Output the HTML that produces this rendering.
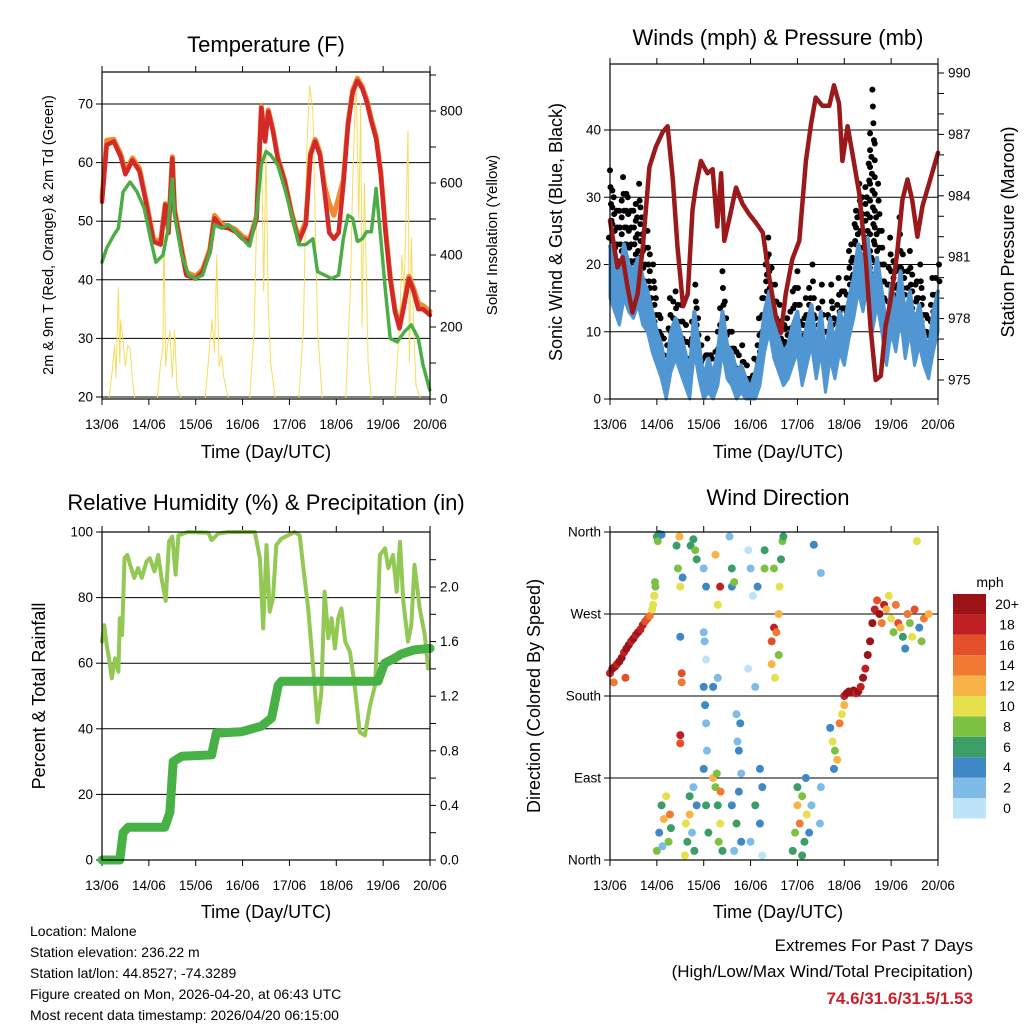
<!DOCTYPE html>
<html><head><meta charset="utf-8">
<style>
html,body{margin:0;padding:0;background:#fff;}
svg{display:block;font-family:"Liberation Sans",sans-serif;}
</style></head>
<body>
<svg id="chart" width="1024" height="1024" viewBox="0 0 1024 1024" xmlns="http://www.w3.org/2000/svg">
<rect x="0" y="0" width="1024" height="1024" fill="#fff"/>
<g id="p1"></g>
<g id="p2"></g>
<g id="p3"></g>
<g id="p4"></g>
<g id="txt">
<text x="266" y="52" font-size="22" text-anchor="middle">Temperature (F)</text>
<text x="778" y="45" font-size="22" text-anchor="middle">Winds (mph) &amp; Pressure (mb)</text>
<text x="266" y="510" font-size="22" text-anchor="middle">Relative Humidity (%) &amp; Precipitation (in)</text>
<text x="778" y="505" font-size="22" text-anchor="middle">Wind Direction</text>
<text x="266" y="458" font-size="18" text-anchor="middle">Time (Day/UTC)</text>
<text x="778" y="458" font-size="18" text-anchor="middle">Time (Day/UTC)</text>
<text x="266" y="918" font-size="18" text-anchor="middle">Time (Day/UTC)</text>
<text x="778" y="918" font-size="18" text-anchor="middle">Time (Day/UTC)</text>
<text transform="translate(53,235) rotate(-90)" font-size="14.5" text-anchor="middle">2m &amp; 9m T (Red, Orange) &amp; 2m Td (Green)</text>
<text transform="translate(497,235) rotate(-90)" font-size="15" text-anchor="middle">Solar Insolation (Yellow)</text>
<text transform="translate(562,232) rotate(-90)" font-size="18" text-anchor="middle">Sonic Wind &amp; Gust (Blue, Black)</text>
<text transform="translate(1014,232) rotate(-90)" font-size="18" text-anchor="middle">Station Pressure (Maroon)</text>
<text transform="translate(45,696) rotate(-90)" font-size="18" text-anchor="middle">Percent &amp; Total Rainfall</text>
<text transform="translate(540,696) rotate(-90)" font-size="18" text-anchor="middle">Direction (Colored By Speed)</text>
<text x="30" y="936" font-size="14">Location: Malone</text>
<text x="30" y="957" font-size="14">Station elevation: 236.22 m</text>
<text x="30" y="978" font-size="14">Station lat/lon: 44.8527; -74.3289</text>
<text x="30" y="999" font-size="14">Figure created on Mon, 2026-04-20, at 06:43 UTC</text>
<text x="30" y="1020" font-size="14">Most recent data timestamp: 2026/04/20 06:15:00</text>
<text x="973" y="951" font-size="17" text-anchor="end">Extremes For Past 7 Days</text>
<text x="973" y="977" font-size="17" text-anchor="end">(High/Low/Max Wind/Total Precipitation)</text>
<text x="973" y="1004" font-size="17" font-weight="bold" fill="#c8202a" text-anchor="end">74.6/31.6/31.5/1.53</text>
</g>
</svg>
<script>
const NS="http://www.w3.org/2000/svg";
const dayLabels=["13/06","14/06","15/06","16/06","17/06","18/06","19/06","20/06"];
// Temperature (t days, F)
const tempTimes=[0,0.1,0.25,0.4,0.5,0.65,0.8,0.95,1.1,1.25,1.35,1.42,1.5,1.55,1.7,1.8,2.0,2.15,2.3,2.4,2.55,2.7,2.85,3.0,3.15,3.3,3.4,3.48,3.55,3.65,3.75,3.9,4.05,4.2,4.35,4.45,4.55,4.65,4.75,4.85,4.95,5.05,5.15,5.25,5.35,5.45,5.55,5.65,5.75,5.85,5.95,6.05,6.15,6.25,6.35,6.45,6.55,6.65,6.75,6.85,7.0];
const tempRed=[53.3,63,63.6,61,58,60.4,58.5,52.8,46.5,46,52.8,48,60.7,51.6,44.8,40.8,40.2,41.4,44.8,50.5,49,48.8,48.2,47,46.5,50.5,69.3,63.6,68.7,65.3,60.7,56.7,51,46.5,49.4,61.3,63.6,61.3,55,48,47,48,56.2,66.4,72,74,72.7,70.4,67,64.1,58,48.2,40.2,34.6,31.7,35.7,40.2,38,35,35,34];
const tempOrange=[54,63.8,64,61.5,58.5,60.8,59,53.2,47,46.5,53,48.5,61,52,45.3,41.3,40.6,41.8,45.2,51,49.5,49.2,48.6,47.4,46.9,51,69.6,64,69,65.6,61,57,51.4,47,50,61.6,64,61.7,56,53,51,54,57,66.8,72.4,74.4,73,70.8,67.4,64.5,58.4,48.6,40.6,35,32.2,36.2,40.6,38.6,36,35.6,34.6];
const dewTimes=[0,0.1,0.25,0.35,0.45,0.6,0.75,0.9,1.05,1.15,1.3,1.4,1.5,1.55,1.7,1.85,2.0,2.15,2.3,2.4,2.55,2.7,2.85,3.0,3.15,3.3,3.4,3.5,3.6,3.75,3.9,4.05,4.2,4.35,4.5,4.6,4.75,4.9,5.05,5.15,5.25,5.35,5.45,5.55,5.65,5.75,5.85,5.95,6.05,6.15,6.3,6.45,6.6,6.75,6.85,7.0];
const dewValues=[43,45.4,47.6,48.8,55,56.7,55,52.2,46.5,43,44.2,48.2,57.3,51,44.2,40.8,40.2,40.8,44.8,49.4,48.8,49.4,48.2,47,45.7,51,59.6,61.9,61.3,59.6,55.6,51,46,46,47,41.4,40.8,40.2,40.8,47,51,50.5,46.5,47,48.2,48.2,55.6,47,38,30,29.4,31.1,32.3,30,25.5,21];
const solarTimes=[0,0.15,0.22,0.27,0.3,0.35,0.38,0.4,0.45,0.5,0.55,0.6,0.65,0.7,1.18,1.25,1.3,1.32,1.36,1.4,1.45,1.5,1.55,1.6,1.7,2.2,2.3,2.35,2.4,2.45,2.5,2.55,2.6,2.7,3.15,3.25,3.3,3.35,3.4,3.45,3.5,3.55,3.6,3.7,4.2,4.3,4.37,4.43,4.5,4.55,4.6,4.7,5.2,5.3,5.35,5.42,5.48,5.52,5.55,5.6,5.68,5.75,6.25,6.3,6.35,6.4,6.45,6.53,6.56,6.6,6.65,6.7,6.8,7.0];
const solarValues=[0,0,80,150,60,310,100,220,160,90,150,140,50,0,0,100,140,480,90,150,190,60,190,30,0,0,150,220,130,400,90,120,60,0,0,200,500,660,760,300,700,250,100,0,0,200,700,870,800,500,200,0,0,300,600,900,500,820,200,600,100,0,0,100,200,400,300,745,100,450,200,40,0,0];
// Winds
const windTimes=[];for(let i=0;i<=70;i++)windTimes.push(i/10);
const windSpeed=[22.7,20.7,18,23,20,19,21,18,16,13,10,8,3.5,10,12,10,7,4,13,8,3,6,3.5,7,13,8,7,4,5,3,1.5,4,7,13,16,12,9,7,8,11,13,7,11,14,8,13,6,12,8,13,11,15,18,23,20,24,16,21,16,10,17,13,19,12,16,11,14,10,7,13,16];
const windLow=[15,13,11,15,13,12,14,11,10,7,5,3,0,4,6,4,2,0,7,3,0,1,0,2,7,3,2,0,1,0,0,0,2,7,10,6,4,2,3,5,7,2,5,8,3,7,1,6,3,7,5,9,12,16,13,17,10,14,10,5,10,7,12,6,10,5,8,5,3,7,10];
const windGust=[34,30,28,33,30,28,32,27,25,20,15,12,8,15,16,14,11,8,17,12,6,9,6,10,19,12,10,7,8,5,3,6,12,20,24,17,14,11,12,16,19,11,15,20,12,17,10,17,12,18,16,22,26,32,30,35,46,32,25,17,24,19,27,18,22,17,20,15,12,18,20];
const presTimes=[0,0.09,0.16,0.27,0.37,0.48,0.59,0.7,0.84,0.98,1.12,1.23,1.34,1.44,1.56,1.66,1.76,1.83,1.94,2.08,2.19,2.29,2.37,2.44,2.54,2.69,2.83,2.97,3.11,3.26,3.4,3.54,3.65,3.75,3.89,4.04,4.18,4.29,4.39,4.53,4.68,4.78,4.89,4.96,5.07,5.17,5.32,5.46,5.56,5.67,5.78,5.88,5.99,6.13,6.24,6.35,6.45,6.56,6.67,6.81,7.0];
const presValues=[982.8,981.5,980.5,981,979.6,978.3,979.2,981.5,985.4,986.4,987.1,987.4,984.8,981.5,978.6,979.2,983.3,984.4,985.7,985.1,985.3,982.5,985.1,981.8,982.8,984.4,983.6,983.1,982.7,982.2,980,978.1,977.3,979.2,980.9,981.8,985.7,987.5,988.8,988.4,988.4,989.4,988.5,985.7,987.4,986.1,984.1,980.9,977.6,975,975.2,977.6,978.9,981.2,983.8,984.8,983.8,982,983.5,984.6,986.1];
// Humidity & precipitation
const rhTimes=[0,0.05,0.1,0.15,0.21,0.28,0.35,0.38,0.43,0.48,0.54,0.6,0.69,0.77,0.85,0.95,1.02,1.12,1.2,1.27,1.36,1.43,1.5,1.57,1.63,1.84,2.27,2.34,2.48,2.69,3.26,3.37,3.44,3.51,3.58,3.65,3.72,3.83,4.11,4.22,4.29,4.4,4.5,4.6,4.68,4.75,4.83,4.9,4.97,5.04,5.11,5.19,5.29,5.39,5.5,5.61,5.72,5.83,5.93,6.04,6.11,6.21,6.29,6.36,6.43,6.53,6.6,6.67,6.78,6.89,6.96];
const rhValues=[66.6,71.6,65.5,61.5,55.4,61.5,57.4,73.7,68.6,92,93,90,86,89,86,91,92,88,93,86,79,97,98.6,87,99,100,99.8,97.5,99.5,100,100,92,70.6,96,75.7,79.8,96,98,100,99,90,76.7,59.5,42,51,81.8,67.6,73.7,64.5,73.7,76.7,66.6,63.5,53.4,39,38,47,53.4,93,95,89,93,81.8,97,78.8,66.6,71.6,90,76.7,68.6,58.4];
const rainTimes=[0,0.38,0.45,0.56,1.34,1.45,1.52,1.7,2.34,2.44,2.98,3.4,3.62,3.76,3.83,5.89,6.03,6.25,6.39,6.67,7.0];
const rainValues=[0,0,0.2,0.24,0.24,0.35,0.72,0.76,0.77,0.93,0.94,0.98,1.04,1.28,1.31,1.31,1.44,1.48,1.51,1.54,1.55];
// Wind direction
const dirTimes=[0,0.05,0.1,0.15,0.2,0.25,0.3,0.35,0.4,0.45,0.5,0.55,0.6,0.65,0.7,0.75,0.8,0.85,0.9,0.95,0.97,0.33,0.08,1.0,1.02,1.05,1.1,0.92,0.94,0.96,1.42,1.45,1.5,1.55,1.48,1.53,1.53,1.5,1.5,1.5,1.72,1.78,1.82,1.85,1.0,1.05,1.1,1.15,1.2,1.25,1.28,1.12,1.3,1.6,1.65,1.7,1.75,1.8,1.85,1.7,1.62,1.78,2.0,2.02,2.05,2.0,2.03,2.05,2.07,2.0,2.05,2.1,2.0,2.05,2.2,2.25,2.3,2.35,2.28,2.32,2.36,2.25,2.35,2.3,2.2,2.3,2.4,2.6,2.6,2.65,2.7,2.78,2.75,2.8,2.6,2.7,2.8,2.65,2.55,2.75,2.72,2.95,3.0,3.05,2.95,3.1,3.2,3.25,3.1,3.2,3.0,3.25,3.3,3.3,3.15,3.45,3.5,3.55,3.45,3.6,3.62,3.65,3.68,3.7,3.5,3.6,3.52,3.9,3.95,4.0,4.05,4.1,4.15,4.2,4.18,4.25,4.0,4.1,4.3,4.35,4.5,4.5,4.48,4.7,4.75,4.8,4.85,4.9,4.95,5.0,4.78,5.0,5.05,5.1,5.15,5.2,5.25,5.3,5.35,5.4,5.45,5.5,5.55,5.6,5.65,5.7,5.75,5.8,5.85,5.9,6.0,6.05,6.1,6.15,6.2,6.25,6.3,6.35,6.4,6.45,6.5,6.55,6.6,6.65,6.7,6.8,5.95];
const dirValues=[205,210,212,215,218,222,228,232,236,240,243,247,250,253,258,262,265,268,275,290,300,200,195,355,350,358,357,280,290,305,345,320,300,310,355,205,195,137,128,245,345,352,340,330,10,30,60,45,70,20,50,15,35,5,20,50,30,10,60,70,40,80,250,240,220,190,170,150,120,100,60,30,320,300,90,80,60,40,95,20,75,335,300,280,190,200,10,320,300,305,160,150,120,95,60,40,20,10,355,75,130,340,320,290,210,190,100,80,60,40,20,5,340,320,300,240,255,250,215,270,300,330,350,355,320,225,200,10,30,60,40,70,20,50,90,30,80,5,60,346,315,80,40,145,130,120,110,150,160,170,100,180,183,185,184,186,183,185,190,200,210,225,240,260,275,285,270,260,280,275,265,250,280,260,255,245,232,270,260,245,275,350,255,240,265,270,290];
const dirSpeeds=[19,20,20,19,20,20,19,20,20,19,20,18,20,19,18,17,16,14,11,10,9,16,15,6,8,6,4,10,10,9,6,8,10,4,12,16,14,18,16,4,6,6,8,6,8,4,6,12,10,8,14,2,6,10,6,12,2,6,4,6,10,2,2,2,0,4,4,2,2,4,6,6,2,4,12,8,6,10,8,8,14,12,18,10,4,2,6,6,4,8,2,4,4,2,4,6,4,2,2,4,2,0,2,0,0,2,4,4,6,4,2,0,6,8,4,16,18,14,12,12,10,6,8,6,8,8,10,6,8,12,14,8,6,10,4,4,6,6,2,4,2,2,2,4,10,8,12,14,10,12,4,18,20,20,20,20,19,20,18,20,18,20,20,20,18,16,20,14,18,12,10,8,14,16,12,6,4,14,8,10,16,10,4,8,14,12,10];
const speedColors=["#bde3f6","#7ebbe6","#3f88c6","#3a9e66","#7dc142","#e6e04c","#f8b347","#f17a33","#e3502a","#c21f24","#9b1317"];
const speedLabels=["0","2","4","6","8","10","12","14","16","18","20+"];

function mk(tag,attrs,parent){const e=document.createElementNS(NS,tag);for(const k in attrs)e.setAttribute(k,attrs[k]);parent.appendChild(e);return e;}
function lin(d0,d1,r0,r1){return v=>r0+(v-d0)*(r1-r0)/(d1-d0);}

function frame(g,X0,X1,Y0,Y1,yScale,leftTicks,leftLabels,gridTicks,rightScale,rightTicks,rightLabels,name){
  const xs=lin(0,7,X0,X1);
  gridTicks.forEach(v=>{const l=mk('line',{x1:X0,x2:X1,y1:yScale(v),y2:yScale(v),stroke:'#000','stroke-width':1},g);
    
    });
  for(let d=0;d<=7;d++){const x=xs(d);
    const t1=mk('line',{x1:x,x2:x,y1:Y1,y2:Y1+6,stroke:'#000','stroke-width':1},g);
    
    
    mk('line',{x1:x,x2:x,y1:Y0,y2:Y0-6,stroke:'#000','stroke-width':1},g);
    const tx=mk('text',{x:x,y:Y1+30,'font-size':13.5,'text-anchor':'middle'},g);tx.textContent=dayLabels[d];
    
    }
  leftTicks.forEach((v,i)=>{const y=yScale(v);mk('line',{x1:X0-6,x2:X0,y1:y,y2:y,stroke:'#000'},g);
    const tx=mk('text',{x:X0-9,y:y+4.5,'font-size':13.5,'text-anchor':'end'},g);tx.textContent=leftLabels[i];
    
    });
  if(rightScale){rightTicks.forEach((v,i)=>{const y=rightScale(v);mk('line',{x1:X1,x2:X1+6,y1:y,y2:y,stroke:'#000'},g);
    if(rightLabels[i]!==''){const tx=mk('text',{x:X1+10,y:y+4.5,'font-size':13.5},g);tx.textContent=rightLabels[i];
    
    }});}
  return xs;
}
function box(g,X0,X1,Y0,Y1,name){const r=mk('rect',{x:X0,y:Y0,width:X1-X0,height:Y1-Y0,fill:'none',stroke:'#000','stroke-width':1.2},g);
  
  }
function poly(g,ts,vs,xs,ys,color,w,name){const pts=ts.map((t,i)=>xs(t).toFixed(1)+','+ys(vs[i]).toFixed(1)).join(' ');
  const p=mk('polyline',{points:pts,fill:'none',stroke:color,'stroke-width':w,'stroke-linejoin':'round','stroke-linecap':'round'},g);
  
  return p;}

// Panel 1
(function(){const g=document.getElementById('p1');const X0=102,X1=430,Y0=72,Y1=399;
 const ys=lin(20,70,397,104), ss=lin(0,800,399,111);
 const xs=frame(g,X0,X1,Y0,Y1,ys,[20,30,40,50,60,70],["20","30","40","50","60","70"],[20,30,40,50,60,70],ss,[0,100,200,300,400,500,600,700,800,900],["0","","200","","400","","600","","800",""],'temperature');
 poly(g,solarTimes,solarValues,xs,ss,'#f7dc5c',1,'solar-line');
 poly(g,tempTimes,tempOrange,xs,ys,'#f08a32',5,'temp-9m-line');
 poly(g,tempTimes,tempRed,xs,ys,'#d42a27',4.5,'temp-2m-line');
 const dp=poly(g,dewTimes,dewValues,xs,ys,'#4aae45',3.5,'dewpoint-line');dp.setAttribute('stroke-dasharray','2.5 1.5');
 box(g,X0,X1,Y0,Y1,'temperature');})();

// Panel 2
(function(){const g=document.getElementById('p2');const X0=610,X1=938,Y0=64,Y1=399;
 const ys=lin(0,40,399,130), ps=lin(975,990,380,73);
 const xs=frame(g,X0,X1,Y0,Y1,ys,[0,10,20,30,40],["0","10","20","30","40"],[10,20,30,40],ps,[975,976,977,978,979,980,981,982,983,984,985,986,987,988,989,990],["975","","","978","","","981","","","984","","","987","","","990"],'winds');
 windTimes.forEach((t,i)=>{
  const top=windGust[i], bot=windSpeed[i];
  for(let v=top; v>bot-1; v-=2.5){
   const c=mk('circle',{cx:xs(t)+((v*7)%3-1),cy:ys(v),r:3,fill:'#000'},g);
   
   }
  if(i<windTimes.length-1){const mv=(windGust[i]+windGust[i+1])/2;const mb=(windSpeed[i]+windSpeed[i+1])/2;
   for(let v=mv-1; v>mb-1; v-=2.5){
   const m=mk('circle',{cx:xs(t+0.05),cy:ys(v),r:3,fill:'#000'},g);
   
   }}});
 const band=windTimes.map((t,i)=>xs(t).toFixed(1)+','+ys(windSpeed[i]).toFixed(1)).concat(windTimes.map((t,i)=>xs(t).toFixed(1)+','+ys(windLow[i]).toFixed(1)).reverse()).join(' ');
 const bp=mk('polygon',{points:band,fill:'#4f96d2',stroke:'#4f96d2','stroke-width':3,'stroke-linejoin':'round'},g);
 
 
 poly(g,windTimes,windSpeed,xs,ys,'#4f96d2',4,'wind-speed-line');
 poly(g,presTimes,presValues,xs,ps,'#9a1a1c',4.5,'pressure-line');
 box(g,X0,X1,Y0,Y1,'winds');})();

// Panel 3
(function(){const g=document.getElementById('p3');const X0=102,X1=430,Y0=532,Y1=860;
 const ys=lin(0,100,860,532), rs=lin(0,2.0,860,587);
 const xs=frame(g,X0,X1,Y0,Y1,ys,[0,20,40,60,80,100],["0","20","40","60","80","100"],[20,40,60,80],rs,[0,0.2,0.4,0.6,0.8,1.0,1.2,1.4,1.6,1.8,2.0,2.2],["0.0","","0.4","","0.8","","1.2","","1.6","","2.0",""],'humidity');
 poly(g,rhTimes,rhValues,xs,ys,'#92c853',4,'relative-humidity-line');
 poly(g,rainTimes,rainValues,xs,rs,'#47b146',9,'rainfall-line');
 box(g,X0,X1,Y0,Y1,'humidity');})();

// Panel 4
(function(){const g=document.getElementById('p4');const X0=610,X1=938,Y0=532,Y1=860;
 const ys=lin(0,360,860,532);
 const xs=frame(g,X0,X1,Y0,Y1,ys,[0,90,180,270,360],["North","East","South","West","North"],[90,180,270],null,[],[],'direction');
 dirTimes.forEach((t,i)=>{let b=Math.min(10,Math.floor(dirSpeeds[i]/2));
  const c=mk('circle',{cx:xs(t),cy:ys(dirValues[i]),r:4,fill:speedColors[b]},g);
  
  });
 box(g,X0,X1,Y0,Y1,'direction');
 const mph=mk('text',{x:990,y:587,'font-size':14,'text-anchor':'middle'},g);mph.textContent='mph';
 
 
 const bh=20.4;
 for(let i=0;i<11;i++){const y=594+(10-i)*bh;
  const r=mk('rect',{x:953,y:y,width:33,height:bh,fill:speedColors[i]},g);
  
  
  const tx=mk('text',{x:1007,y:y+15,'font-size':14,'text-anchor':'middle'},g);tx.textContent=speedLabels[i];
  
  }
})();
</script>
</body></html>
